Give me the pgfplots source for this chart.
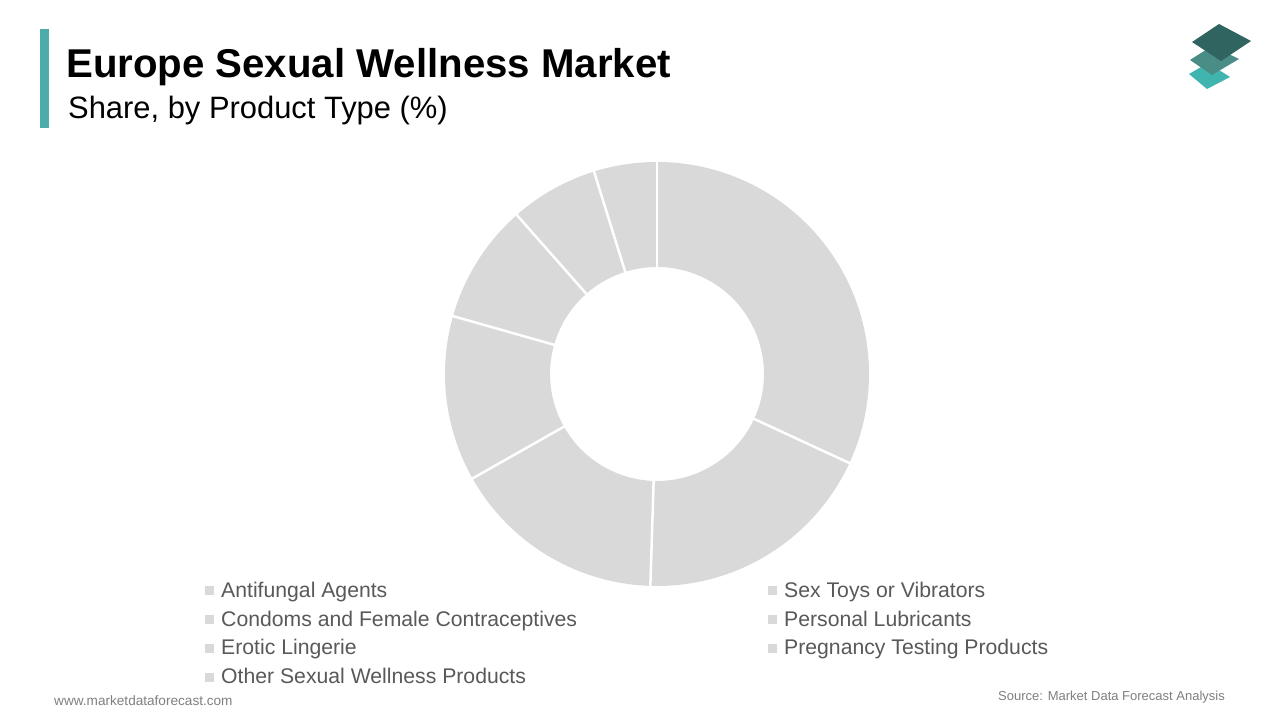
\documentclass[border=0pt]{standalone}
\usepackage{pgfplots}
\pgfplotsset{compat=1.18}
\usepackage{pgfplotstable}
\usepackage{fontspec}
\setmainfont{Liberation Sans}
\definecolor{slice}{HTML}{D9D9D9}
\definecolor{legtext}{HTML}{595959}
\definecolor{foot}{HTML}{808080}
\definecolor{accent}{HTML}{4BACAA}
\definecolor{logoA}{HTML}{2F6460}
\definecolor{logoB}{HTML}{4A8C86}
\definecolor{logoC}{HTML}{40B5B0}

\pgfplotstableread[col sep=comma]{
label,share
Antifungal Agents,31.9
Condoms and Female Contraceptives,18.6
Erotic Lingerie,16.3
Other Sexual Wellness Products,12.6
Sex Toys or Vibrators,9.1
Personal Lubricants,6.7
Pregnancy Testing Products,4.8
}\shares

\begin{document}
\begin{tikzpicture}
\begin{axis}[x=1pt,y=1pt,xmin=0,xmax=1280,ymin=0,ymax=720,
  hide axis,clip=false,scale only axis,disabledatascaling]
\pgfplotsextra{
  \fill[white] (axis cs:0,0) rectangle (axis cs:1280,720);
  % accent bar
  \fill[accent] (axis cs:40,592) rectangle (axis cs:49,691);
  % titles
  \node[anchor=base west,inner sep=0pt,font=\fontsize{40.2}{45}\selectfont\bfseries] at (axis cs:66,642.5) {Europe Sexual Wellness Market};
  \node[anchor=base west,inner sep=0pt,font=\fontsize{30.9}{35}\selectfont] at (axis cs:68,601) {Share, by Product Type (\%)};
  % logo
  \fill[logoC] (axis cs:1208,657) -- (axis cs:1230,643) -- (axis cs:1207,631) -- (axis cs:1189,646) -- cycle;
  \fill[logoB] (axis cs:1212,674) -- (axis cs:1239,661) -- (axis cs:1212,645) -- (axis cs:1190,660) -- cycle;
  \fill[logoA] (axis cs:1219,696) -- (axis cs:1251,679) -- (axis cs:1221,659) -- (axis cs:1192,678) -- cycle;
  % donut
  \gdef\cumang{90}
  \foreach \i in {0,...,6}{
    \pgfplotstablegetelem{\i}{share}\of\shares
    \pgfmathsetmacro\sa{\cumang}
    \pgfmathsetmacro\ea{\cumang-3.6*\pgfplotsretval}
    \fill[slice] (axis cs:657,346) ++(\sa:212pt) arc[start angle=\sa,end angle=\ea,radius=212pt]
      -- ++(\ea:-105pt) arc[start angle=\ea,end angle=\sa,radius=107pt] -- cycle;
    \xdef\cumang{\ea}
  }
  \gdef\cumang{90}
  \foreach \i in {0,...,6}{
    \pgfplotstablegetelem{\i}{share}\of\shares
    \pgfmathsetmacro\sa{\cumang}
    \pgfmathsetmacro\ea{\cumang-3.6*\pgfplotsretval}
    \draw[white,line width=2.5pt] (axis cs:657,346) ++(\sa:104pt) -- ++(\sa:110pt);
    \xdef\cumang{\ea}
  }
  % legend
  \foreach \i in {0,...,6}{
    \pgfplotstablegetelem{\i}{label}\of\shares
    \ifnum\i<4
      \def\lx{205}\pgfmathsetmacro\ly{130-28.67*\i}
    \else
      \def\lx{768}\pgfmathsetmacro\ly{130-28.67*(\i-4)}
    \fi
    \fill[slice] (axis cs:\lx,\ly) ++(0pt,-5.5pt) rectangle ++(9pt,9pt);
    \node[anchor=base west,inner sep=0pt,text=legtext,font=\fontsize{21.2}{25}\selectfont]
      at (axis cs:\lx,\ly) [xshift=16pt,yshift=-7.5pt] {\pgfplotsretval};
  }
  % footer
  \node[anchor=base west,inner sep=0pt,text=foot,font=\fontsize{13.6}{16}\selectfont] at (axis cs:54,14) {www.marketdataforecast.com};
  \node[anchor=base east,inner sep=0pt,text=foot,font=\fontsize{13}{16}\selectfont] at (axis cs:1225,19) {Source: Market Data Forecast Analysis};
}
\end{axis}
\end{tikzpicture}
\end{document}
